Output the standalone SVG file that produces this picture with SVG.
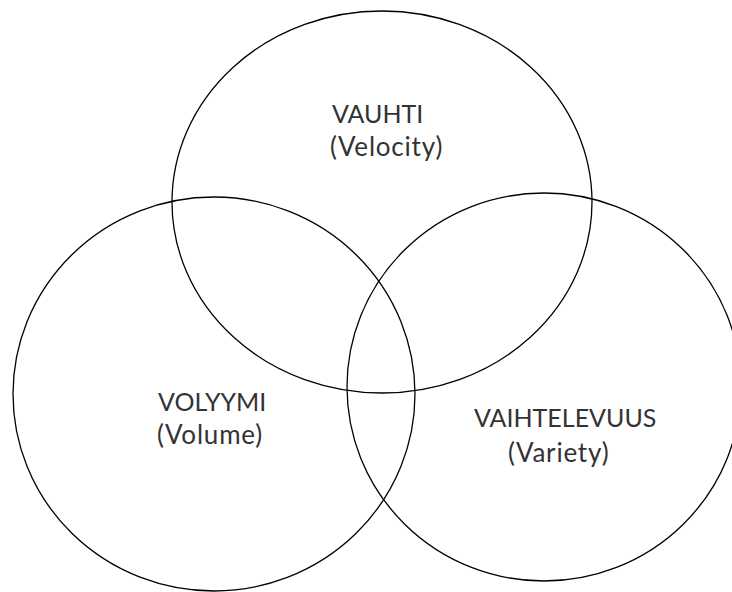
<svg xmlns="http://www.w3.org/2000/svg" width="732" height="592" viewBox="0 0 732 592">
<style>
.c{fill:none;stroke:#000;stroke-width:1.3}
.t{font-family:Lato,"Open Sans","Liberation Sans",sans-serif;font-size:25px;fill:#333}
.l{font-size:26px;letter-spacing:0.8px}
</style>
<rect width="732" height="592" fill="#fff"/>
<g id="vauhti">
<ellipse class="c" cx="382" cy="202" rx="210" ry="191"/>
<text class="t" x="332" y="123">VAUHTI</text>
<text class="t l" x="330" y="156">(Velocity)</text>
</g>
<g id="volyymi">
<ellipse class="c" cx="214" cy="394" rx="201" ry="197"/>
<text class="t" x="158" y="411">VOLYYMI</text>
<text class="t l" x="157" y="444">(Volume)</text>
</g>
<g id="vaihtelevuus">
<ellipse class="c" cx="544" cy="387" rx="197" ry="194"/>
<text class="t" x="474" y="427">VAIHTELEVUUS</text>
<text class="t l" x="508" y="462">(Variety)</text>
</g>
<g id="connectors"/>
</svg>
